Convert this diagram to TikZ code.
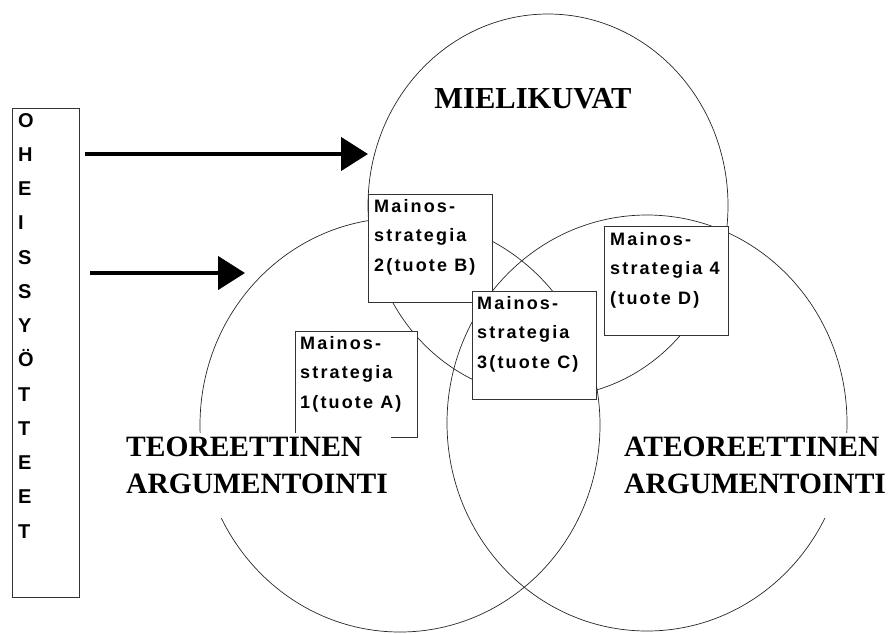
\documentclass[tikz,border=0pt]{standalone}
\usepackage{fontspec}
\setmainfont{Liberation Serif}
\newfontfamily\titlefont{Liberation Serif Bold}
\newfontfamily\stratfont[LetterSpace=12]{Liberation Sans Bold}
\newfontfamily\colfont{Liberation Sans Bold}
\usetikzlibrary{arrows.meta,shapes.geometric}

\tikzset{
  venn/.style={ellipse, draw=black!85, line width=0.7pt, inner sep=0pt},
  framebox/.style={draw=black!80, line width=0.6pt, fill=white, inner sep=0pt, anchor=north west},
  strattext/.style={anchor=north west, inner sep=0pt, align=left,
    font=\stratfont\fontsize{18}{29.5}\selectfont},
  biglabel/.style={font=\titlefont\fontsize{29.5}{37}\selectfont, align=left, fill=white,
    inner xsep=3pt, inner ysep=4pt, anchor=north west},
  colletter/.style={font=\colfont\fontsize{20}{20}\selectfont, anchor=west,
    inner sep=0pt, text height=14.3pt, text depth=0pt},
  feed/.style={line width=4.5pt, -{Triangle[length=27pt,width=33pt]}}
}

\begin{document}
\begin{tikzpicture}[x=1pt,y=-1pt]
\useasboundingbox (0,0) rectangle (893,633);

% the three overlapping areas
\node[venn, minimum width=360pt, minimum height=383pt] (mieli) at (548,205.5) {};
\node[venn, minimum width=400pt, minimum height=414pt] (teo) at (400,425) {};
\node[venn, minimum width=400pt, minimum height=416pt] (ateo) at (647,423) {};

% vertical column of side inputs
\node[framebox, minimum width=67pt, minimum height=489pt] (side) at (12,108) {};
\foreach \ch [count=\i from 0] in {O,H,E,I,S,S,Y,Ö,T,T,E,E,T}
  \node[colletter] (c\i) at (18,120+34.25*\i) {\ch};

% feed arrows
\coordinate (f1a) at (85,154);  \coordinate (f1b) at (368,154);
\coordinate (f2a) at (90,273);  \coordinate (f2b) at (245,273);
\draw[feed] (f1a) -- (f1b);
\draw[feed] (f2a) -- (f2b);

% strategy boxes
\node[framebox, minimum width=122pt, minimum height=106pt] (s1) at (295,331) {};
\node[strattext] (s1t) at ([xshift=5pt,yshift=-5pt]s1.north west) {Mainos-\\strategia\\1(tuote A)};
\node[framebox, minimum width=124pt, minimum height=108pt] (s2) at (368,194) {};
\node[strattext] (s2t) at ([xshift=6pt,yshift=-5pt]s2.north west) {Mainos-\\strategia\\2(tuote B)};
\node[framebox, minimum width=124pt, minimum height=108pt] (s3) at (472,291) {};
\node[strattext] (s3t) at ([xshift=5pt,yshift=-5pt]s3.north west) {Mainos-\\strategia\\3(tuote C)};
\node[framebox, minimum width=124pt, minimum height=109pt] (s4) at (604,226) {};
\node[strattext] (s4t) at ([xshift=6pt,yshift=-6pt]s4.north west) {Mainos-\\strategia 4\\(tuote D)};

% area titles
\node[font=\titlefont\fontsize{30.5}{37}\selectfont, inner sep=0pt] (mlab) at (533,99) {MIELIKUVAT};
\node[biglabel] (tlab) at (123,433) {TEOREETTINEN\\ARGUMENTOINTI\rule[-20pt]{0pt}{0pt}};
\node[biglabel] (alab) at (621,433) {ATEOREETTINEN\\ARGUMENTOINTI\rule[-20pt]{0pt}{0pt}};
\end{tikzpicture}
\end{document}
